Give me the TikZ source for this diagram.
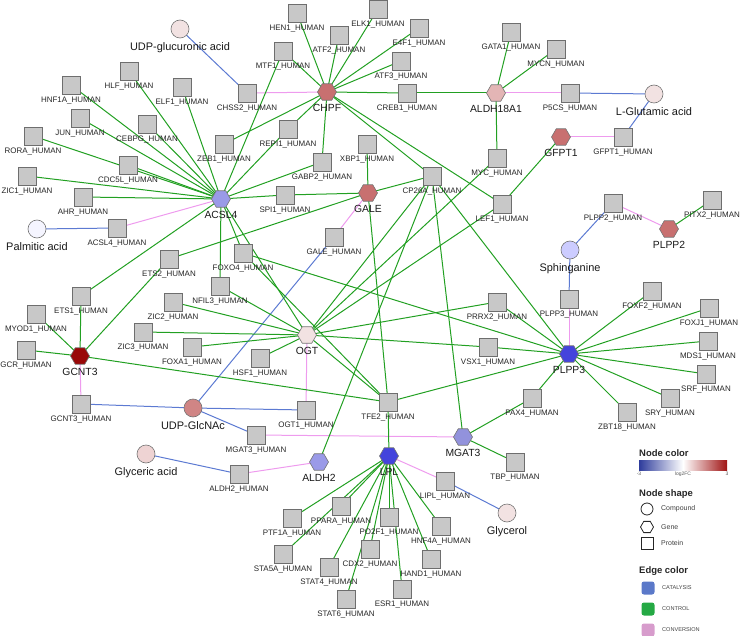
\documentclass[tikz,border=0pt]{standalone}
\usepackage{fontspec}
\setmainfont{Liberation Sans}
\usetikzlibrary{shapes.geometric}
\pgfdeclarelayer{bg}
\pgfsetlayers{bg,main}
\definecolor{protfill}{HTML}{C8C8C8}
\definecolor{protdraw}{HTML}{6E6E6E}
\definecolor{ctrlcol}{HTML}{22A022}
\definecolor{catcol}{HTML}{5C7AD2}
\definecolor{convcol}{HTML}{EE9BEE}
\definecolor{gRed}{HTML}{C87070}
\definecolor{gPink}{HTML}{E3B5B5}
\definecolor{gPale}{HTML}{F2E2E2}
\definecolor{gLav}{HTML}{9A9AE8}
\definecolor{gBlue}{HTML}{4444DC}
\definecolor{gDark}{HTML}{990808}
\definecolor{legBlue}{HTML}{2E3C9C}
\definecolor{legRed}{HTML}{A01414}
\definecolor{legCat}{HTML}{5B79C9}
\definecolor{legCtrl}{HTML}{25A944}
\definecolor{legConv}{HTML}{D79CCC}
\newcommand\PR[4]{\node[prot] (#1) at (#2,#3) {}; \node[plab] (#1l) at ([yshift=-2bp]#1.south) {#4};}
\newcommand\GN[5]{\node[gene,fill=#5] (#1) at (#2,#3) {}; \node[glab] (#1l) at ([yshift=-4bp]#1.south) {#4};}
\newcommand\CP[5]{\node[comp,fill=#5] (#1) at (#2,#3) {}; \node[clab] (#1l) at ([yshift=-4bp]#1.south) {#4};}
\begin{document}
\begin{tikzpicture}[x=1bp,y=-1bp,
  prot/.style={draw=protdraw,fill=protfill,minimum size=18bp,inner sep=0,line width=0.7bp},
  plab/.style={anchor=north,inner sep=0,font=\fontsize{8}{8}\selectfont,text=black!85},
  gene/.style={regular polygon,regular polygon sides=6,draw=black!55,minimum size=19bp,inner sep=0,line width=0.6bp},
  glab/.style={anchor=north,inner sep=0,font=\fontsize{10.4}{10.4}\selectfont,text=black!90},
  comp/.style={circle,draw=black!55,minimum size=18bp,inner sep=0,line width=0.6bp},
  clab/.style={anchor=north,inner sep=0,font=\fontsize{11}{11}\selectfont,text=black!90},
  ctrl/.style={draw=ctrlcol,line width=1bp},
  cat/.style={draw=catcol,line width=1bp},
  conv/.style={draw=convcol,line width=1bp},
  lhead/.style={anchor=west,inner sep=0,font=\bfseries\fontsize{9.5}{9.5}\selectfont,text=black!85},
  ltxt/.style={anchor=west,inner sep=0,font=\fontsize{7}{7}\selectfont,text=black!75},
  lsmall/.style={inner sep=0,font=\fontsize{5.6}{5.6}\selectfont,text=black!75},
  ltiny/.style={inner sep=0,font=\fontsize{5}{5}\selectfont,text=black!65}]
\useasboundingbox (0,0) rectangle (741,636);
% compounds
\CP{UDPGA}{180}{29}{UDP-glucuronic acid}{gPale}
\CP{LGLU}{654}{94}{L-Glutamic acid}{gPale}
\CP{PALM}{37}{229}{Palmitic acid}{blue!4}
\CP{SPHI}{570}{250}{Sphinganine}{blue!20}
\CP{UDPG}{193}{408}{UDP-GlcNAc}{gRed!85}
\CP{GLYA}{146}{454}{Glyceric acid}{gPink!60}
\CP{GLYC}{507}{513}{Glycerol}{gPale}
% genes
\GN{CHPF}{327}{92}{CHPF}{gRed}
\GN{ALDH18A1}{496}{93}{ALDH18A1}{gPink}
\GN{GFPT1}{561}{137}{GFPT1}{gRed}
\GN{ACSL4}{221}{199}{ACSL4}{gLav}
\GN{GALE}{368}{193}{GALE}{gRed}
\GN{PLPP2}{669}{229}{PLPP2}{gRed}
\GN{OGT}{307}{335}{OGT}{gPale}
\GN{PLPP3}{569}{354}{PLPP3}{gBlue}
\GN{GCNT3}{80}{356}{GCNT3}{gDark}
\GN{MGAT3}{463}{437}{MGAT3}{gLav!95!black}
\GN{LPL}{389}{456}{LPL}{gBlue}
\GN{ALDH2}{319}{462}{ALDH2}{gLav}
% proteins
\PR{HNF1A}{71}{85}{HNF1A\_HUMAN}
\PR{HLF}{129}{71}{HLF\_HUMAN}
\PR{ELF1}{182}{87}{ELF1\_HUMAN}
\PR{JUN}{80}{118}{JUN\_HUMAN}
\PR{CEBPG}{147}{124}{CEBPG\_HUMAN}
\PR{RORA}{33}{136}{RORA\_HUMAN}
\PR{CDC5L}{128}{165}{CDC5L\_HUMAN}
\PR{ZIC1}{27}{176}{ZIC1\_HUMAN}
\PR{AHR}{83}{197}{AHR\_HUMAN}
\PR{ZEB1}{224}{144}{ZEB1\_HUMAN}
\PR{CHSS2}{247}{93}{CHSS2\_HUMAN}
\PR{HEN1}{297}{13}{HEN1\_HUMAN}
\PR{ELK1}{378}{9}{ELK1\_HUMAN}
\PR{ATF2}{339}{35}{ATF2\_HUMAN}
\PR{E4F1}{419}{28}{E4F1\_HUMAN}
\PR{MTF1}{283}{51}{MTF1\_HUMAN}
\PR{ATF3}{401}{61}{ATF3\_HUMAN}
\PR{CREB1}{407}{93}{CREB1\_HUMAN}
\PR{REPI1}{288}{129}{REPI1\_HUMAN}
\PR{XBP1}{367}{144}{XBP1\_HUMAN}
\PR{GABP2}{322}{162}{GABP2\_HUMAN}
\PR{SPI1}{285}{195}{SPI1\_HUMAN}
\PR{CP26A}{432}{176}{CP26A\_HUMAN}
\PR{GATA1}{511}{32}{GATA1\_HUMAN}
\PR{MYCN}{556}{49}{MYCN\_HUMAN}
\PR{P5CS}{570}{93}{P5CS\_HUMAN}
\PR{GFPT1H}{623}{137}{GFPT1\_HUMAN}
\PR{MYC}{497}{158}{MYC\_HUMAN}
\PR{LEF1}{502}{204}{LEF1\_HUMAN}
\PR{PLPP2H}{613}{203}{PLPP2\_HUMAN}
\PR{PITX2}{712}{200}{PITX2\_HUMAN}
\PR{ACSL4H}{117}{228}{ACSL4\_HUMAN}
\PR{ETS2}{169}{259}{ETS2\_HUMAN}
\PR{FOXO4}{243}{253}{FOXO4\_HUMAN}
\PR{NFIL3}{220}{286}{NFIL3\_HUMAN}
\PR{ETS1}{81}{296}{ETS1\_HUMAN}
\PR{ZIC2}{173}{302}{ZIC2\_HUMAN}
\PR{MYOD1}{36}{314}{MYOD1\_HUMAN}
\PR{ZIC3}{143}{332}{ZIC3\_HUMAN}
\PR{FOXA1}{192}{347}{FOXA1\_HUMAN}
\PR{GCR}{26}{350}{GCR\_HUMAN}
\PR{HSF1}{260}{358}{HSF1\_HUMAN}
\PR{GCNT3H}{81}{404}{GCNT3\_HUMAN}
\PR{GALEH}{334}{237}{GALE\_HUMAN}
\PR{OGT1}{306}{410}{OGT1\_HUMAN}
\PR{TFE2}{388}{402}{TFE2\_HUMAN}
\PR{PRRX2}{497}{302}{PRRX2\_HUMAN}
\PR{VSX1}{488}{347}{VSX1\_HUMAN}
\PR{PLPP3H}{569}{299}{PLPP3\_HUMAN}
\PR{FOXF2}{652}{291}{FOXF2\_HUMAN}
\PR{FOXJ1}{709}{308}{FOXJ1\_HUMAN}
\PR{MDS1}{708}{341}{MDS1\_HUMAN}
\PR{SRF}{706}{374}{SRF\_HUMAN}
\PR{SRY}{670}{398}{SRY\_HUMAN}
\PR{ZBT18}{627}{412}{ZBT18\_HUMAN}
\PR{PAX4}{532}{398}{PAX4\_HUMAN}
\PR{TBP}{515}{462}{TBP\_HUMAN}
\PR{MGAT3H}{256}{435}{MGAT3\_HUMAN}
\PR{ALDH2H}{239}{474}{ALDH2\_HUMAN}
\PR{LIPL}{445}{481}{LIPL\_HUMAN}
\PR{PTF1A}{292}{518}{PTF1A\_HUMAN}
\PR{PPARA}{341}{506}{PPARA\_HUMAN}
\PR{PO2F1}{389}{517}{PO2F1\_HUMAN}
\PR{HNF4A}{441}{526}{HNF4A\_HUMAN}
\PR{STA5A}{283}{554}{STA5A\_HUMAN}
\PR{CDX2}{370}{549}{CDX2\_HUMAN}
\PR{HAND1}{431}{559}{HAND1\_HUMAN}
\PR{STAT4}{329}{567}{STAT4\_HUMAN}
\PR{STAT6}{346}{599}{STAT6\_HUMAN}
\PR{ESR1}{402}{589}{ESR1\_HUMAN}
% edges
\begin{pgfonlayer}{bg}
\foreach \a/\b in {UDPGA/CHSS2,LGLU/P5CS,LGLU/GFPT1H,PALM/ACSL4H,SPHI/PLPP2H,SPHI/PLPP3H,UDPG/GCNT3H,UDPG/GALEH,UDPG/OGT1,UDPG/MGAT3H,GLYA/ALDH2H,GLYC/LIPL}
  \draw[cat] (\a.center) -- (\b.center);
\foreach \a/\b in {CHSS2/CHPF,ALDH18A1/P5CS,GFPT1/GFPT1H,ACSL4/ACSL4H,GALE/GALEH,PLPP2H/PLPP2,PLPP3H/PLPP3,GCNT3/GCNT3H,OGT/OGT1,MGAT3H/MGAT3,ALDH2H/ALDH2,LPL/LIPL}
  \draw[conv] (\a.center) -- (\b.center);
\foreach \b in {HNF1A,HLF,ELF1,JUN,CEBPG,RORA,CDC5L,ZIC1,AHR,MTF1,REPI1,GABP2,SPI1,FOXO4,NFIL3,ETS1,OGT}
  \draw[ctrl] (ACSL4.center) -- (\b.center);
\foreach \b in {HEN1,MTF1,ATF2,ELK1,E4F1,ATF3,CREB1,ZEB1,REPI1,GABP2,CP26A,LEF1}
  \draw[ctrl] (CHPF.center) -- (\b.center);
\foreach \b in {CREB1,GATA1,MYCN,MYC}
  \draw[ctrl] (ALDH18A1.center) -- (\b.center);
\foreach \b in {XBP1,SPI1,CP26A,ETS2,TFE2}
  \draw[ctrl] (GALE.center) -- (\b.center);
\foreach \b in {MYC,LEF1,CP26A,NFIL3,ZIC2,ZIC3,FOXA1,HSF1,PRRX2,VSX1,TFE2}
  \draw[ctrl] (OGT.center) -- (\b.center);
\foreach \b in {PRRX2,VSX1,TFE2,FOXO4,CP26A,FOXF2,FOXJ1,MDS1,SRF,SRY,ZBT18,PAX4}
  \draw[ctrl] (PLPP3.center) -- (\b.center);
\foreach \b in {ETS1,ETS2,MYOD1,GCR,TFE2}
  \draw[ctrl] (GCNT3.center) -- (\b.center);
\foreach \b in {PTF1A,PPARA,PO2F1,HNF4A,STA5A,CDX2,HAND1,STAT4,STAT6,ESR1,TFE2}
  \draw[ctrl] (LPL.center) -- (\b.center);
\foreach \b in {CP26A,PAX4,TBP}
  \draw[ctrl] (MGAT3.center) -- (\b.center);
\draw[ctrl] (GFPT1.center) -- (LEF1.center);
\draw[ctrl] (TFE2.center) -- (FOXO4.center);
\draw[ctrl] (ALDH2.center) -- (CP26A.center);
\draw[ctrl] (PLPP2.center) -- (PITX2.center);
\end{pgfonlayer}
% legend
\node[lhead] (lnc) at (639,453) {Node color};
\node[inner sep=0,minimum width=88bp,minimum height=10bp,left color=legBlue,right color=legRed,middle color=white] (lbar) at (683,465) {};
\node[ltiny] (lm3) at (639,474) {-3};
\node[ltiny] (llog) at (683,474) {log2FC};
\node[ltiny] (lp3) at (727,474) {3};
\node[lhead] (lns) at (639,494) {Node shape};
\node[circle,draw=black!85,minimum size=12bp,inner sep=0,line width=0.8bp] (lcirc) at (647,509) {};
\node[ltxt] (lcompt) at (661,509) {Compound};
\node[regular polygon,regular polygon sides=6,draw=black!85,minimum size=13bp,inner sep=0,line width=0.8bp] (lhex) at (647,527) {};
\node[ltxt] (lgenet) at (661,527) {Gene};
\node[draw=black!85,minimum size=12bp,inner sep=0,line width=0.8bp] (lsq) at (647,543) {};
\node[ltxt] (lprott) at (661,543) {Protein};
\node[lhead] (lec) at (639,571) {Edge color};
\node[fill=legCat,rounded corners=2.5bp,minimum size=13bp,inner sep=0] (lcat) at (648,588) {};
\node[lsmall,anchor=west] (lcatt) at (662,588) {CATALYSIS};
\node[fill=legCtrl,rounded corners=2.5bp,minimum size=13bp,inner sep=0] (lctrl) at (648,609) {};
\node[lsmall,anchor=west] (lctrlt) at (662,609) {CONTROL};
\node[fill=legConv,rounded corners=2.5bp,minimum size=13bp,inner sep=0] (lconv) at (648,630) {};
\node[lsmall,anchor=west] (lconvt) at (662,630) {CONVERSION};
\end{tikzpicture}
\end{document}
